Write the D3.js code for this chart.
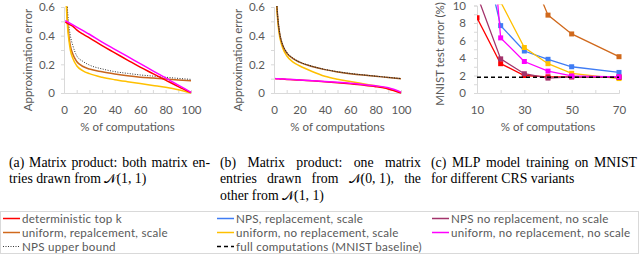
<!DOCTYPE html>
<html><head><meta charset="utf-8">
<script src="https://cdn.jsdelivr.net/npm/d3@7/dist/d3.min.js"></script>
<style>body{margin:0;background:#fff}svg{display:block}</style>
</head><body>
<svg id="fig" width="640" height="256"></svg>
<script>
// ---------- data ----------
const xMatrix = [1,2,3,4,5,7,10,15,20,30,40,50,60,70,80,90,100];
// (a) both entries from N(1,1)
const aTopK      = [0.495,0.49,0.485,0.48,0.475,0.465,0.44,0.41,0.385,0.33,0.28,0.23,0.18,0.135,0.09,0.045,0.003];
const aUnifNoNo  = [0.505,0.5,0.495,0.49,0.485,0.475,0.46,0.435,0.41,0.355,0.305,0.255,0.205,0.155,0.105,0.055,0.005];
const aUnifRepl  = [0.9,0.62,0.47,0.39,0.33,0.27,0.22,0.185,0.167,0.148,0.133,0.12,0.11,0.104,0.098,0.091,0.085];
const aUpper     = [0.95,0.7,0.55,0.46,0.4,0.33,0.26,0.22,0.195,0.168,0.149,0.137,0.126,0.118,0.11,0.102,0.095];
const aUnifNoSc  = [0.85,0.58,0.44,0.36,0.3,0.24,0.19,0.155,0.135,0.11,0.093,0.079,0.066,0.053,0.04,0.023,0.0];
// (b) one from N(0,1), other from N(1,1)
const bUnifRepl  = [0.9,0.65,0.52,0.44,0.39,0.33,0.28,0.24,0.215,0.185,0.163,0.147,0.135,0.125,0.117,0.108,0.1];
const bUpper     = [0.92,0.66,0.53,0.45,0.395,0.335,0.285,0.243,0.218,0.187,0.165,0.149,0.137,0.127,0.118,0.109,0.101];
const bUnifNoSc  = [0.88,0.63,0.5,0.42,0.37,0.31,0.26,0.215,0.19,0.15,0.117,0.096,0.08,0.065,0.05,0.03,0.005];
const bTopK      = [0.1,0.1,0.099,0.099,0.098,0.097,0.095,0.093,0.09,0.085,0.079,0.072,0.064,0.055,0.044,0.028,0.0];
const bUnifNoNo  = [0.101,0.1,0.1,0.1,0.099,0.098,0.096,0.094,0.091,0.086,0.081,0.075,0.068,0.059,0.05,0.036,0.006];
// (c) MLP on MNIST
const xMnist = [10,20,30,40,50,70];
const cTopK      = [8.6,3.35,2.0,1.85,1.85,1.8];
const cNpsRepl   = [19,7.7,4.8,3.85,3.0,2.35];
const cNpsNoRepl = [11.2,3.9,2.2,1.7,1.85,1.8];
const cUnifRepl  = [40,25,15.4,8.9,6.75,4.15];
const cUnifNoSc  = [30,10.4,5.2,3.35,2.25,1.65];
const cUnifNoNo  = [38,6.3,3.6,2.5,1.95,1.85];
const cBaseline  = 1.8;
// ticks
const matrixXTicks = [0,20,40,60,80,100];
const matrixYTicks = [0,0.2,0.4,0.6];
const mnistXTicks = [10,30,50,70];
const mnistYTicks = [0,2,4,6,8,10];
const legendLabels = ["deterministic top k","NPS, replacement, scale","NPS no replacement, no scale",
  "uniform, repalcement, scale","uniform, no replacement, scale","uniform, no replacement, no scale",
  "NPS upper bound","full computations (MNIST baseline)"];
const captionA = [["(a) Matrix product: both matrix en-",1],["tries drawn from |N|(1, 1)",0]];
const captionB = [["(b) Matrix product: one matrix",1],["entries drawn from |N|(0, 1), the",1],["other from |N|(1, 1)",0]];
const captionC = [["(c) MLP model training on MNIST",1],["for different CRS variants",0]];

// ---------- style ----------
const C = {red:"#FF0000", blue:"#3F7CF4", purple:"#A3336B", orange:"#D0691C", yellow:"#FFC000", magenta:"#FF00FF", dot:"#333", base:"#000"};
const FONT = "Lato, 'Open Sans', sans-serif";
const TXT = "#595959", AX = "#D9D9D9";
const svg = d3.select("#fig");

let clipId = 0;
function panel(p){
  const x = d3.scaleLinear().domain(p.xd).range(p.xr);
  const y = d3.scaleLinear().domain(p.yd).range(p.yr);
  const g = svg.append("g");
  const minor = d3.range(p.xd[0], p.xd[1]+0.001, p.xMinor);
  g.append("g").attr("transform",`translate(0,${p.yr[0]})`)
    .call(d3.axisBottom(x).tickValues(minor).tickSize(-3).tickFormat(""))
    .call(s=>{s.select(".domain").attr("stroke",AX);s.selectAll("line").attr("stroke",AX);});
  g.append("g").attr("transform",`translate(0,${p.yr[0]})`)
    .call(d3.axisBottom(x).tickValues(p.xt).tickSize(0).tickPadding(13))
    .call(s=>{s.select(".domain").remove();s.selectAll("text").attr("fill",TXT).attr("font-family",FONT).attr("font-size",11.5);});
  const yminor = d3.range(p.yd[0], p.yd[1]+1e-9, p.yMinor);
  g.append("g").attr("transform",`translate(${p.xr[0]},0)`)
    .call(d3.axisLeft(y).tickValues(yminor).tickSize(3).tickFormat(""))
    .call(s=>{s.select(".domain").attr("stroke",AX);s.selectAll("line").attr("stroke",AX);});
  g.append("g").attr("transform",`translate(${p.xr[0]},0)`)
    .call(d3.axisLeft(y).tickValues(p.yt).tickSize(0).tickPadding(p.yPad).tickFormat(p.yf))
    .call(s=>{s.select(".domain").remove();s.selectAll("text").attr("fill",TXT).attr("font-family",FONT).attr("font-size",11.5);});
  g.append("text").attr("x",(p.xr[0]+p.xr[1])/2).attr("y",p.yr[0]+38).attr("text-anchor","middle")
    .attr("fill",TXT).attr("font-family",FONT).attr("font-size",11.5).text("% of computations");
  g.append("text").attr("transform",`translate(${p.titleX},${p.titleY}) rotate(-90)`).attr("text-anchor","middle")
    .attr("dy","0.35em").attr("fill",TXT).attr("font-family",FONT).attr("font-size",11.5).text(p.yTitle);
  const id = "clip"+(clipId++);
  svg.append("clipPath").attr("id",id).append("rect")
    .attr("x",p.xr[0]).attr("y",p.yr[1]-1).attr("width",p.xr[1]-p.xr[0]+4).attr("height",p.yr[0]-p.yr[1]+3);
  const pg = g.append("g").attr("clip-path",`url(#${id})`);
  p.series.forEach(s=>{
    const pts = p.xs.map((xv,i)=>[xv,s.v[i]]);
    const line = d3.line().x(d=>x(d[0])).y(d=>y(d[1])).curve(p.curve||d3.curveLinear);
    pg.append("path").datum(pts).attr("d",line).attr("fill","none").attr("stroke",s.c)
      .attr("stroke-width",s.w||1.5).attr("stroke-dasharray",s.dash||null);
    if (p.markers) pg.selectAll(null).data(pts).enter().append("rect")
      .attr("x",d=>x(d[0])-2.5).attr("y",d=>y(d[1])-2.5).attr("width",5).attr("height",5).attr("fill",s.c);
  });
  if (p.baseline!==undefined) pg.append("line").attr("x1",x(p.xd[0])).attr("x2",x(p.xd[1]))
    .attr("y1",y(p.baseline)).attr("y2",y(p.baseline)).attr("stroke",C.base).attr("stroke-width",1.5).attr("stroke-dasharray","4,3");
}
const f1 = d=> d===0?"0":d.toFixed(1);
panel({xd:[0,100],xr:[64,191],yd:[0,0.6],yr:[93,7],xt:matrixXTicks,yt:matrixYTicks,xMinor:10,yMinor:0.1,yf:f1,yPad:9,
  titleX:28,titleY:60,yTitle:"Approximation error",xs:xMatrix,curve:d3.curveMonotoneX,
  series:[{v:aUnifRepl,c:"#C8661E"},{v:aUpper,c:C.dot,w:1,dash:"1,1.5"},{v:aUnifNoSc,c:C.yellow},{v:aTopK,c:C.red},{v:aUnifNoNo,c:C.magenta}]});
panel({xd:[0,100],xr:[274,401],yd:[0,0.6],yr:[93,7],xt:matrixXTicks,yt:matrixYTicks,xMinor:10,yMinor:0.1,yf:f1,yPad:9,
  titleX:238,titleY:60,yTitle:"Approximation error",xs:xMatrix,curve:d3.curveMonotoneX,
  series:[{v:bUnifNoSc,c:C.yellow},{v:bUnifRepl,c:"#A0581E"},{v:bUpper,c:"#222",w:1,dash:"1,1.5"},{v:bTopK,c:C.red},{v:bUnifNoNo,c:C.magenta}]});
panel({xd:[10,70],xr:[477,619],yd:[0,10],yr:[93,5.5],xt:mnistXTicks,yt:mnistYTicks,xMinor:10,yMinor:1,yf:d=>d,yPad:11,
  titleX:440,titleY:54,yTitle:"MNIST test error (%)",xs:xMnist,markers:true,baseline:cBaseline,
  series:[{v:cUnifRepl,c:C.orange,w:1.3},{v:cNpsRepl,c:C.blue,w:1.3},{v:cUnifNoSc,c:C.yellow,w:1.3},{v:cTopK,c:C.red,w:1.3},{v:cNpsNoRepl,c:C.purple,w:1.3},{v:cUnifNoNo,c:C.magenta,w:1.3}]});

// ---------- captions ----------
const SERIF = "'Liberation Serif','Times New Roman',serif";
function hasGlyph(ch){
  const cv=document.createElement("canvas");cv.width=40;cv.height=40;const ctx=cv.getContext("2d");
  const draw=(c)=>{ctx.clearRect(0,0,40,40);ctx.font="28px 'DejaVu Serif','DejaVu Sans','Noto Sans',serif";ctx.fillText(c,4,30);return ctx.getImageData(0,0,40,40).data.join(",");};
  return draw(ch)!==draw("\uE000") && draw(ch)!==draw("\uFFFF");
}
const CAL = hasGlyph("\u{1D4A9}");
function caption(lines, x0, W, y0, lh, fs){
  lines.forEach(([str,just],li)=>{
    const y = y0+li*lh;
    const words = str.split(" ");
    const toks=[]; words.forEach(w=>{ if(/^\d\)/.test(w)&&toks.length) toks[toks.length-1]+=" "+w; else toks.push(w); });
    const nodes = toks.map(tk=>{
      const t = svg.append("text").attr("y",y).attr("font-family",SERIF).attr("font-size",fs).attr("fill","#000");
      tk.split("|").forEach((seg,i)=>{
        if(!seg) return;
        if(i===1){
          const ts=t.append("tspan");
          if(CAL) ts.text("\u{1D4A9}").attr("font-family","'DejaVu Serif','DejaVu Sans',serif").attr("font-size",fs-1);
          else ts.text(seg).attr("font-family",SERIF).attr("font-style","italic").attr("font-size",fs);
        } else t.append("tspan").text(seg);
      });
      return t;
    });
    const wd = nodes.map(n=>n.node().getComputedTextLength());
    const sum = d3.sum(wd);
    const gap = just && nodes.length>1 ? (W-sum)/(nodes.length-1) : fs*0.25;
    let x=x0; nodes.forEach((n,i)=>{n.attr("x",x); x+=wd[i]+gap;});
  });
}
caption(captionA, 9, 201, 166.5, 16.5, 13.8);
caption(captionB, 220, 201, 166.5, 16.5, 13.8);
caption(captionC, 431, 206, 166.5, 16.5, 13.8);

// ---------- legend ----------
svg.append("rect").attr("x",0.5).attr("y",211.5).attr("width",638).attr("height",42).attr("fill","#fff").attr("stroke",AX);
const legStyles = [{c:C.red},{c:C.blue},{c:C.purple},{c:C.orange},{c:C.yellow},{c:C.magenta},{c:C.dot,w:1,dash:"1,1.5"},{c:C.base,dash:"4,3"}];
const colX = [3,217,432], rowY=[218.5,232.5,246.5];
legendLabels.forEach((lab,i)=>{
  const cx = colX[i%3], cy = rowY[Math.floor(i/3)], s=legStyles[i];
  svg.append("line").attr("x1",cx).attr("x2",cx+17).attr("y1",cy).attr("y2",cy).attr("stroke",s.c)
    .attr("stroke-width",s.w||1.5).attr("stroke-dasharray",s.dash||null);
  svg.append("text").attr("x",cx+19).attr("y",cy).attr("dy","0.35em").attr("fill",TXT)
    .attr("font-family",FONT).attr("font-size",11.6).attr("letter-spacing",0.25).text(lab);
});
</script>
</body></html>
